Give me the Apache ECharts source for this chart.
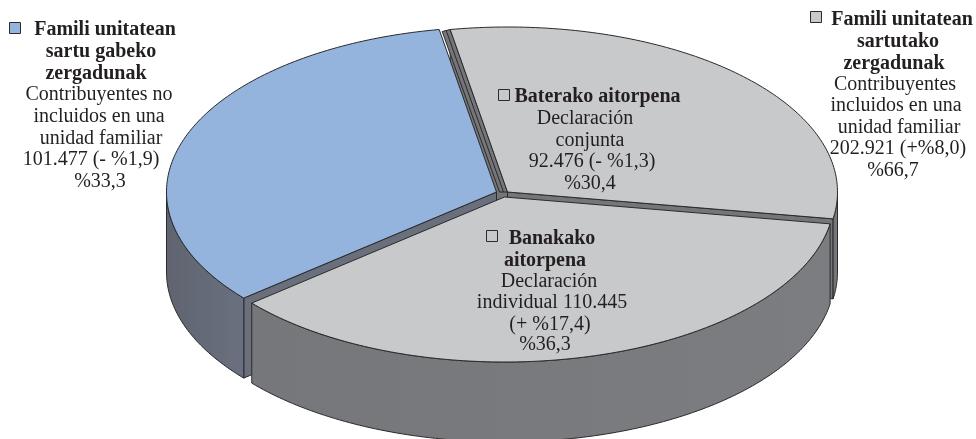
<!DOCTYPE html>
<html>
<head>
<meta charset="utf-8">
<style>
  html, body { margin: 0; background: #fff; }
  #chart { width: 976px; height: 439px; }
</style>
<script src="https://cdn.jsdelivr.net/npm/echarts@6/dist/echarts.min.js"></script>
</head>
<body>
<div id="chart"></div>
<script>
// clockwise from the first slice
const categories = ['Baterako aitorpena', 'Banakako aitorpena', 'Famili unitatean sartu gabeko zergadunak'];
const sliceValues = [92476, 110445, 101477];

const familyOutLines = ['Famili unitatean', 'sartu gabeko', 'zergadunak', 'Contribuyentes no', 'incluidos en una', 'unidad familiar', '101.477 (- %1,9)', '%33,3'];
const jointLines = ['Baterako aitorpena', 'Declaración', 'conjunta', '92.476 (- %1,3)', '%30,4'];
const familyInLines = ['Famili unitatean', 'sartutako', 'zergadunak', 'Contribuyentes', 'incluidos en una', 'unidad familiar', '202.921 (+%8,0)', '%66,7'];
const individualLines = ['Banakako', 'aitorpena', 'Declaración', 'individual 110.445', '(+ %17,4)', '%36,3'];

const GRAY_TOP = '#c8c9cb';
const BLUE_TOP = '#94b3dd';
const EDGE = '#2b2a2c';

const PIE = { cx: 502, cy: 194, rx: 330, ry: 165, depth: 80, startDeg: -10 };
// cuts: which cut faces can be seen from above (0 = start edge, 1 = end edge)
const SLICE_STYLES = [
  { top: GRAY_TOP, wall: '#7c7d81', wallEnd: '#6f7073', cut: '#75767a', dx: 5.5, dy: -2, lip: -8, cuts: [0, 1] },
  { top: GRAY_TOP, wall: '#7c7d81', wallEnd: '#76777b', cut: '#75767a', dx: 2.5, dy: 3, lip: 0, cuts: [] },
  { top: BLUE_TOP, wall: '#6b7080', wallEnd: '#5f6470', cut: '#6a6f7c', dx: -5.5, dy: -2, lip: 0, cuts: [0] },
];
// back to front
const DRAW_ORDER = [0, 2, 1];

const total = sliceValues.reduce((a, b) => a + b, 0);

function arcPoint(deg, s) {
  const t = deg * Math.PI / 180;
  return [PIE.cx + s.dx + PIE.rx * Math.sin(t), PIE.cy + s.dy - PIE.ry * Math.cos(t)];
}

function arcPoints(from, to, s) {
  const pts = [];
  const n = Math.max(2, Math.ceil(to - from));
  for (let i = 0; i <= n; i++) {
    pts.push(arcPoint(from + (to - from) * i / n, s));
  }
  return pts;
}

function down(pts) {
  return pts.map((p) => [p[0], p[1] + PIE.depth]).reverse();
}

function poly(points, fill) {
  return {
    type: 'polygon',
    shape: { points: points },
    style: { fill: fill, stroke: EDGE, lineWidth: 1, lineJoin: 'round' },
  };
}

function renderSlice(params, api) {
  const idx = api.value(0);
  const s = SLICE_STYLES[idx];
  let from = PIE.startDeg;
  for (let i = 0; i < idx; i++) from += sliceValues[i] / total * 360;
  const to = from + sliceValues[idx] / total * 360;
  const apex = [PIE.cx + s.dx, PIE.cy + s.dy];
  const children = [];

  s.cuts.forEach((c) => {
    const seg = [apex, arcPoint(c === 0 ? from : to, s)];
    children.push(poly(seg.concat(down(seg)), s.cut));
  });

  if (s.lip) {
    const tip = arcPoint(from, s);
    children.push(poly([apex, tip, [tip[0] + s.lip, tip[1] + 2], [apex[0] + s.lip, apex[1]]], s.cut));
    children.push({
      type: 'line',
      shape: { x1: apex[0] + s.lip / 2, y1: apex[1], x2: tip[0] + s.lip / 2, y2: tip[1] + 1 },
      style: { stroke: EDGE, lineWidth: 1 },
    });
  }

  // outer wall, only the front half of the ellipse shows
  const wallFrom = Math.max(from, 90);
  const wallTo = Math.min(to, 270);
  if (wallTo > wallFrom) {
    const arc = arcPoints(wallFrom, wallTo, s);
    const wall = poly(arc.concat(down(arc)), {
      type: 'linear', x: 0, y: 0, x2: 1, y2: 0,
      colorStops: [{ offset: 0, color: s.wallEnd }, { offset: 1, color: s.wall }],
    });
    children.push(wall);
  }

  children.push(poly([apex].concat(arcPoints(from, to, s)), s.top));
  return { type: 'group', children: children };
}

function textBlock(lines, boldCount, centers, ys) {
  return lines.map((line, i) => ({
    type: 'text',
    z: 10,
    x: centers[i],
    y: ys[i] + 1.5,
    style: {
      text: line,
      fill: '#231f20',
      font: (i < boldCount ? 'bold ' : '') + '20px "Liberation Serif", serif',
      align: 'center',
      verticalAlign: 'middle',
    },
  }));
}

function swatch(x, y, size, fill) {
  return {
    type: 'rect',
    z: 10,
    shape: { x: x, y: y, width: size, height: size },
    style: { fill: fill, stroke: EDGE, lineWidth: 1 },
  };
}

const chart = echarts.init(document.getElementById('chart'), null, { renderer: 'canvas' });
chart.setOption({
  animation: false,
  backgroundColor: '#fff',
  series: [{
    type: 'custom',
    coordinateSystem: 'none',
    silent: true,
    data: DRAW_ORDER.map((i) => [i, sliceValues[i], categories[i]]),
    renderItem: renderSlice,
  }],
  graphic: [].concat(
    swatch(9.5, 22.5, 11, BLUE_TOP),
    textBlock(familyOutLines, 3, [105, 101, 96, 99, 99, 101, 91, 100], [28, 50, 72, 93, 115, 137, 158, 180]),
    swatch(498.5, 89.5, 11, GRAY_TOP),
    textBlock(jointLines, 1, [597.5, 585, 590, 592, 590], [95, 117, 139, 160, 182]),
    swatch(810.5, 11.5, 11, GRAY_TOP),
    textBlock(familyInLines, 3, [902, 898, 894, 895, 896, 899, 898, 893], [18, 40, 62, 83, 104, 126, 147, 169]),
    swatch(486.5, 230.5, 11, GRAY_TOP),
    textBlock(individualLines, 2, [552, 545, 549, 552, 550, 545], [237, 259, 280, 301, 323, 343])
  ),
});
</script>
</body>
</html>
